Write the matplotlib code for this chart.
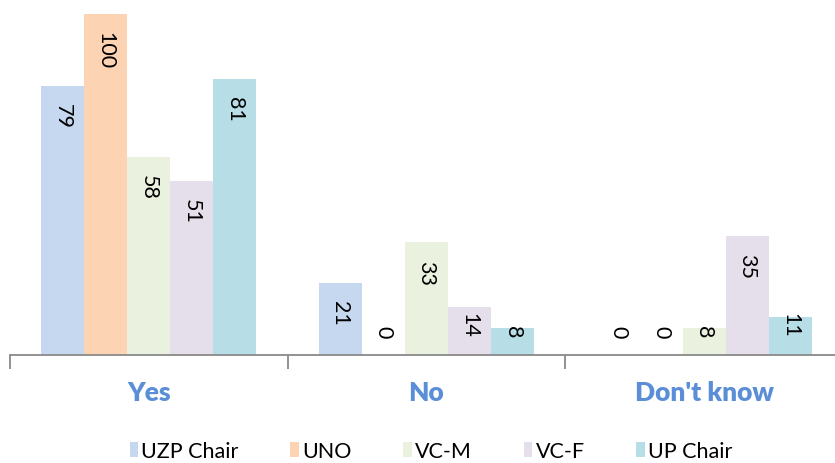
import matplotlib
matplotlib.use("Agg")
import matplotlib.pyplot as plt
import numpy as np

categories = ["Yes", "No", "Don't know"]
series_names = ["UZP Chair", "UNO", "VC-M", "VC-F", "UP Chair"]
uzp_chair = [79, 21, 0]
uno = [100, 0, 0]
vc_m = [58, 33, 8]
vc_f = [51, 14, 35]
up_chair = [81, 8, 11]
colors = ["#c6d8ef", "#fcd3b3", "#ebf1df", "#e5dfeb", "#b7dde7"]

plt.rcParams["font.family"] = ["Lato", "DejaVu Sans"]


def main():
    series = [uzp_chair, uno, vc_m, vc_f, up_chair]
    fig = plt.figure(figsize=(8.35, 4.64), dpi=100)
    ax = fig.add_axes([10 / 835, 1 - 356 / 464, 833 / 835, 356 / 464])

    x = np.arange(len(categories))
    width = 0.155
    ymax = 104.4
    for i, (name, vals) in enumerate(zip(series_names, series)):
        pos = x + (i - 2) * width
        ax.bar(pos, vals, width, color=colors[i], label=name, zorder=2)
        for px, v in zip(pos, vals):
            top = v - 5.0
            # labels of short bars sit just above the axis
            if top - 7.5 < 5.3:
                ax.text(px, 5.3, str(v), rotation=270, ha="center", va="bottom",
                        fontsize=15.5, zorder=3)
            else:
                ax.text(px, top, str(v), rotation=270, ha="center", va="top",
                        fontsize=15.5, zorder=3)

    ax.set_xlim(-0.5, 2.5)
    ax.set_ylim(0, ymax)
    ax.set_yticks([])
    for s in ["top", "left", "right"]:
        ax.spines[s].set_visible(False)
    ax.spines["bottom"].set_color("#898989")
    ax.spines["bottom"].set_linewidth(1.3)

    ax.set_xticks(x)
    ax.set_xticklabels(categories, fontsize=19, fontweight="heavy", color="#5a8fd8")
    ax.tick_params(axis="x", which="major", length=0, pad=18)
    ax.set_xticks([-0.5, 0.5, 1.5, 2.5], minor=True)
    ax.tick_params(axis="x", which="minor", length=10, width=1.3, color="#898989")

    fig.legend(loc="center", bbox_to_anchor=(431 / 835, 1 - 452 / 464), ncol=5,
               frameon=False, fontsize=15.5, handlelength=0.4, handleheight=0.65,
               handletextpad=0.15, columnspacing=2.4, borderpad=0.2)

    fig.savefig("out.png", dpi=100)


if __name__ == "__main__":
    main()
